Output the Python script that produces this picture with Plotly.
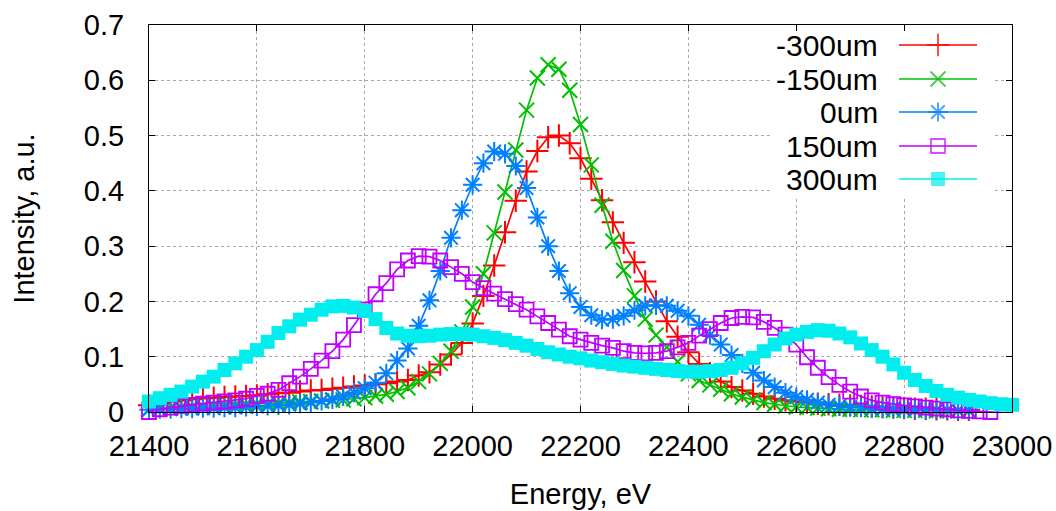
import plotly.graph_objects as go

# ---------------- data ----------------
energy = list(range(21400, 23001, 20))          # 81 points, eV
energy_short = energy[:77]                        # 21400 .. 22920

neg300 = [0.012,0.016,0.019,0.021,0.023,0.025,0.026,0.027,0.028,0.029,
          0.030,0.032,0.034,0.035,0.037,0.039,0.040,0.042,0.044,0.046,
          0.048,0.050,0.052,0.055,0.058,0.066,0.072,0.086,0.104,0.125,
          0.160,0.210,0.265,0.325,0.382,0.435,0.472,0.497,0.500,0.486,
          0.459,0.422,0.383,0.343,0.306,0.271,0.236,0.200,0.164,0.136,
          0.108,0.087,0.070,0.055,0.045,0.039,0.033,0.028,0.024,0.021,
          0.019,0.017,0.015,0.014,0.013,0.012,0.011,0.010,0.009,0.008,
          0.007,0.006,0.006,0.005,0.005,0.004,0.004]

neg150 = [0.005,0.007,0.008,0.009,0.010,0.011,0.012,0.012,0.013,0.014,
          0.015,0.015,0.016,0.017,0.018,0.019,0.020,0.021,0.022,0.024,
          0.026,0.029,0.032,0.037,0.044,0.055,0.069,0.088,0.110,0.145,
          0.190,0.250,0.324,0.398,0.474,0.546,0.604,0.628,0.620,0.582,
          0.520,0.447,0.374,0.309,0.256,0.210,0.168,0.139,0.117,0.091,
          0.069,0.057,0.049,0.041,0.033,0.027,0.022,0.017,0.014,0.011,
          0.009,0.008,0.007,0.006,0.005,0.005,0.004,0.004,0.004,0.003,
          0.003,0.003,0.003,0.002,0.002,0.002,0.002]

zero = [0.004,0.005,0.005,0.006,0.006,0.007,0.007,0.008,0.008,0.009,
        0.010,0.011,0.012,0.013,0.015,0.017,0.020,0.023,0.028,0.035,
        0.043,0.053,0.070,0.093,0.115,0.156,0.202,0.255,0.315,0.365,
        0.411,0.450,0.471,0.467,0.445,0.405,0.352,0.300,0.255,0.215,
        0.190,0.175,0.167,0.168,0.174,0.184,0.192,0.193,0.192,0.183,
        0.174,0.158,0.139,0.122,0.103,0.088,0.071,0.057,0.045,0.035,
        0.027,0.022,0.017,0.013,0.011,0.009,0.008,0.007,0.006,0.006,
        0.005,0.005,0.004,0.004,0.004,0.003,0.003]

pos150 = [0.000,0.005,0.008,0.011,0.013,0.015,0.017,0.019,0.021,0.024,
          0.029,0.033,0.040,0.052,0.064,0.078,0.093,0.110,0.131,0.157,
          0.185,0.213,0.233,0.258,0.274,0.282,0.281,0.274,0.262,0.250,
          0.235,0.224,0.214,0.204,0.195,0.185,0.173,0.161,0.149,0.137,
          0.131,0.125,0.120,0.116,0.110,0.107,0.106,0.107,0.110,0.117,
          0.125,0.138,0.150,0.161,0.170,0.172,0.171,0.163,0.152,0.140,
          0.122,0.099,0.080,0.063,0.049,0.037,0.028,0.021,0.017,0.014,
          0.012,0.010,0.008,0.006,0.005,0.003,0.002,0.001,0.000,-0.001,-0.002]

pos300 = [0.019,0.025,0.031,0.037,0.046,0.055,0.064,0.076,0.088,0.100,
          0.112,0.127,0.143,0.155,0.167,0.176,0.185,0.191,0.192,0.189,
          0.183,0.168,0.152,0.142,0.138,0.137,0.138,0.140,0.141,0.141,
          0.140,0.137,0.134,0.130,0.125,0.120,0.114,0.108,0.104,0.100,
          0.097,0.093,0.090,0.087,0.084,0.082,0.080,0.078,0.076,0.074,
          0.073,0.073,0.074,0.076,0.080,0.088,0.098,0.110,0.122,0.133,
          0.140,0.145,0.148,0.147,0.142,0.135,0.124,0.112,0.100,0.086,
          0.071,0.058,0.047,0.038,0.031,0.026,0.022,0.019,0.016,0.014,0.013]

labels = ["-300um", "-150um", "0um", "150um", "300um"]
colors = ["#ff0000", "#00c000", "#0080ff", "#c000ff", "#00eeee"]

series = [
    (energy_short, neg300, dict(symbol="cross-thin", size=16, line=dict(width=2, color=colors[0]), color=colors[0])),
    (energy_short, neg150, dict(symbol="x-thin", size=15, line=dict(width=2, color=colors[1]), color=colors[1])),
    (energy_short, zero, dict(symbol="asterisk", size=16, line=dict(width=2, color=colors[2]), color=colors[2])),
    (energy, pos150, dict(symbol="square-open", size=14, line=dict(width=1.8, color=colors[3]), color=colors[3])),
    (energy, pos300, dict(symbol="square", size=14, line=dict(width=0), color=colors[4])),
]

FONT = "Liberation Sans, Arial, sans-serif"

fig = go.Figure()
for (xs, ys, mk), name, col in zip(series, labels, colors):
    fig.add_trace(go.Scatter(x=xs, y=ys, name=name, mode="lines+markers",
                             line=dict(color=col, width=1.7), marker=mk,
                             cliponaxis=False, showlegend=False))

# ---- gnuplot-style key (text right aligned, sample to its right) on a pixel overlay ----
key_rows = [45, 79, 112, 146, 179]
for (xs, ys, mk), name, col, yy in zip(series, labels, colors, key_rows):
    m = dict(mk)
    m["size"] = [0, mk["size"], 0]
    fig.add_trace(go.Scatter(x=[899, 938, 977], y=[yy, yy, yy], mode="lines+markers",
                             line=dict(color=col, width=1.7), marker=m,
                             xaxis="x2", yaxis="y2", showlegend=False, hoverinfo="skip"))
    fig.add_annotation(x=880, y=yy, xref="x2", yref="y2", text=name, showarrow=False,
                       xanchor="right", yanchor="middle",
                       font=dict(family=FONT, size=30, color="black"))

# opaque key box (hides the grid behind the key)
fig.add_shape(type="rect", xref="x", yref="y", x0=22551, x1=22965, y0=0.387, y1=0.696,
              fillcolor="white", line=dict(width=0), layer="between")

axis_common = dict(showline=True, linecolor="black", linewidth=1, mirror="allticks",
                   ticks="inside", ticklen=6, tickcolor="black", automargin=False,
                   showgrid=True, gridcolor="#a8a8a8", griddash="dot", gridwidth=1,
                   zeroline=False, tickfont=dict(family=FONT, size=29, color="black"))

fig.update_layout(
    width=1056, height=511,
    margin=dict(l=149, r=44, t=25, b=99),
    plot_bgcolor="white", paper_bgcolor="white",
    font=dict(family=FONT, size=29, color="black"),
    showlegend=False,
    xaxis=dict(range=[21400, 23000], tick0=21400, dtick=200, tickformat="d",
               ticklabelstandoff=8,
               title=dict(text="Energy, eV", standoff=22, font=dict(family=FONT, size=29)),
               **axis_common),
    yaxis=dict(range=[0, 0.7], tick0=0, dtick=0.1,
               ticklabelstandoff=18,
               title=dict(text="Intensity, a.u.", standoff=40, font=dict(family=FONT, size=29)),
               **axis_common),
    xaxis2=dict(overlaying="x", range=[149, 1012], visible=False, fixedrange=True),
    yaxis2=dict(overlaying="y", range=[412, 25], visible=False, fixedrange=True),
)

fig.write_html("out.html", config={"displayModeBar": False},
               post_script="document.body.style.margin='0px';document.body.style.overflow='hidden';")
